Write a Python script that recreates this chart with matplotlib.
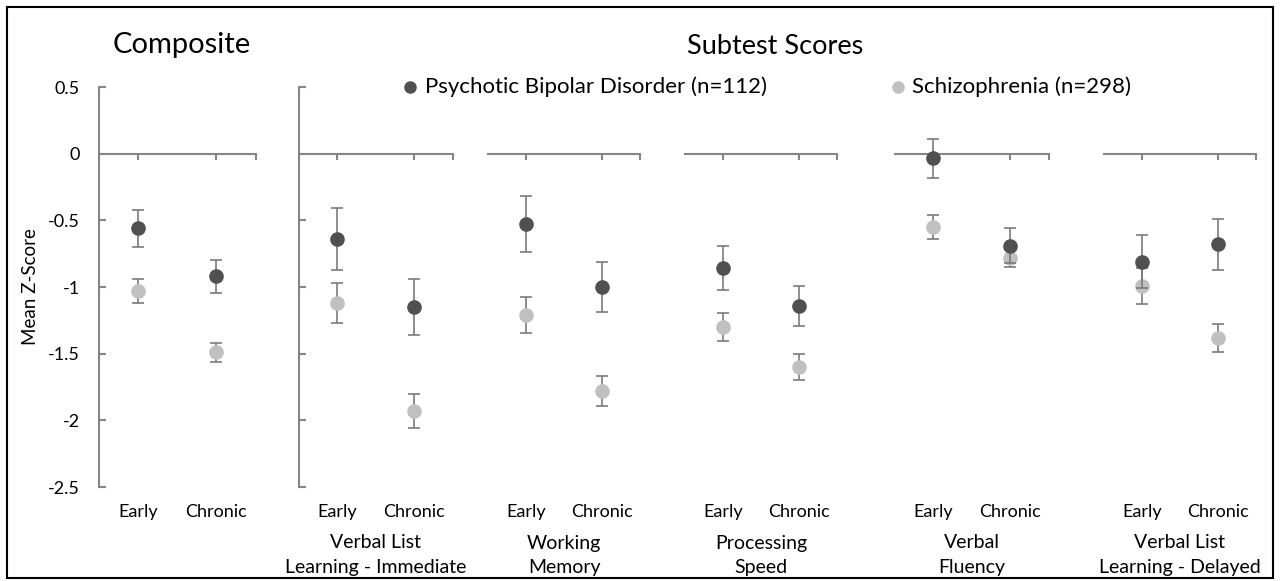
import matplotlib
matplotlib.use('Agg')
import matplotlib.pyplot as plt
import matplotlib.transforms as mtransforms
from matplotlib.patches import Rectangle

plt.rcParams['font.family'] = ['Lato', 'DejaVu Sans']

# data
groups = ["Composite", "Verbal List\nLearning - Immediate", "Working\nMemory",
          "Processing\nSpeed", "Verbal\nFluency", "Verbal List\nLearning - Delayed"]
stages = ["Early", "Chronic"]
series_names = ["Psychotic Bipolar Disorder (n=112)", "Schizophrenia (n=298)"]

pbd_mean = [[-0.56, -0.92], [-0.64, -1.15], [-0.525, -1.00], [-0.86, -1.14], [-0.035, -0.69], [-0.81, -0.68]]
pbd_err = [[0.14, 0.125], [0.235, 0.21], [0.21, 0.19], [0.165, 0.15], [0.145, 0.13], [0.20, 0.19]]
sz_mean = [[-1.03, -1.49], [-1.12, -1.93], [-1.21, -1.78], [-1.30, -1.60], [-0.55, -0.78], [-0.99, -1.38]]
sz_err = [[0.09, 0.07], [0.15, 0.13], [0.135, 0.115], [0.105, 0.095], [0.09, 0.07], [0.135, 0.105]]

y_ticks = [0.5, 0, -0.5, -1, -1.5, -2, -2.5]

W, H = 1282, 581
fig = plt.figure(figsize=(W / 100, H / 100), dpi=100)

# panel extents in pixels (left, right)
panel_px = [(99, 255.5), (298.5, 452.5), (488, 640), (685, 837), (894.5, 1048.5), (1104, 1256)]
y_top_px, y_bot_px = 87, 487

dark, light = '#505050', '#c0c0c0'
axis_c = '#858585'
err_c = '#7a7a7a'

axes = []
for i, (l, r) in enumerate(panel_px):
    ax = fig.add_axes([l / W, 1 - y_bot_px / H, (r - l) / W, (y_bot_px - y_top_px) / H])
    ax.set_xlim(0.5, 2.5)
    ax.set_ylim(-2.5, 0.5)
    ax.patch.set_visible(False)
    for s in ['top', 'right']:
        ax.spines[s].set_visible(False)
    ax.spines['bottom'].set_position(('data', 0))
    ax.spines['bottom'].set_color(axis_c)
    ax.spines['bottom'].set_linewidth(1.5)
    ax.set_xticks([1, 2, 2.5])
    ax.set_xticklabels([])
    ax.tick_params(axis='x', direction='out', length=4, width=1.5, color=axis_c)
    if i <= 1:
        ax.spines['left'].set_color(axis_c)
        ax.spines['left'].set_linewidth(1.5)
        ax.set_yticks(y_ticks)
        ax.tick_params(axis='y', direction='in', length=5, width=1.5, color=axis_c,
                       labelsize=13, pad=14)
        if i == 0:
            ax.set_yticklabels([f"{v:g}" for v in y_ticks])
        else:
            ax.set_yticklabels([])
    else:
        ax.spines['left'].set_visible(False)
        ax.set_yticks([])

    x = [1, 2]
    ax.errorbar(x, sz_mean[i], yerr=sz_err[i], fmt='o', color=light, ms=9.5,
                ecolor=err_c, elinewidth=1.2, capsize=4.3, capthick=1.2, zorder=3)
    ax.errorbar(x, pbd_mean[i], yerr=pbd_err[i], fmt='o', color=dark, ms=9.5,
                ecolor=err_c, elinewidth=1.2, capsize=4.3, capthick=1.2, zorder=4)

    # category labels and group names
    tr = mtransforms.blended_transform_factory(ax.transData, fig.transFigure)
    for xi, s in zip(x, stages):
        ax.text(xi, 1 - 512 / H, s, transform=tr, ha='center', va='center', fontsize=13)
    if i > 0:
        tr2 = mtransforms.blended_transform_factory(ax.transAxes, fig.transFigure)
        ax.text(0.5, 1 - 555 / H, groups[i], transform=tr2, ha='center', va='center',
                fontsize=14, linespacing=1.5)
    axes.append(ax)

axes[0].set_ylabel("Mean Z-Score", fontsize=13.5)
axes[0].yaxis.set_label_coords(-0.385, 0.5)

fig.text(182 / W, 1 - 45 / H, groups[0], ha='center', va='center', fontsize=21)
fig.text(775 / W, 1 - 47 / H, "Subtest Scores", ha='center', va='center', fontsize=19.5)

# legend
for (mx, tx), name, c in zip([(410, 425), (898, 912)], series_names, [dark, light]):
    fig.lines.append(plt.Line2D([mx / W], [1 - 87 / H], marker='o', ms=8, color=c,
                                transform=fig.transFigure))
    fig.text(tx / W, 1 - 87 / H, name, ha='left', va='center', fontsize=16)

fig.patches.append(Rectangle((7 / W, 1 - 578 / H), (1273 - 7) / W, (578 - 7) / H,
                             transform=fig.transFigure, fill=False, edgecolor='black', lw=1.5))

fig.savefig('out.png', dpi=100)
